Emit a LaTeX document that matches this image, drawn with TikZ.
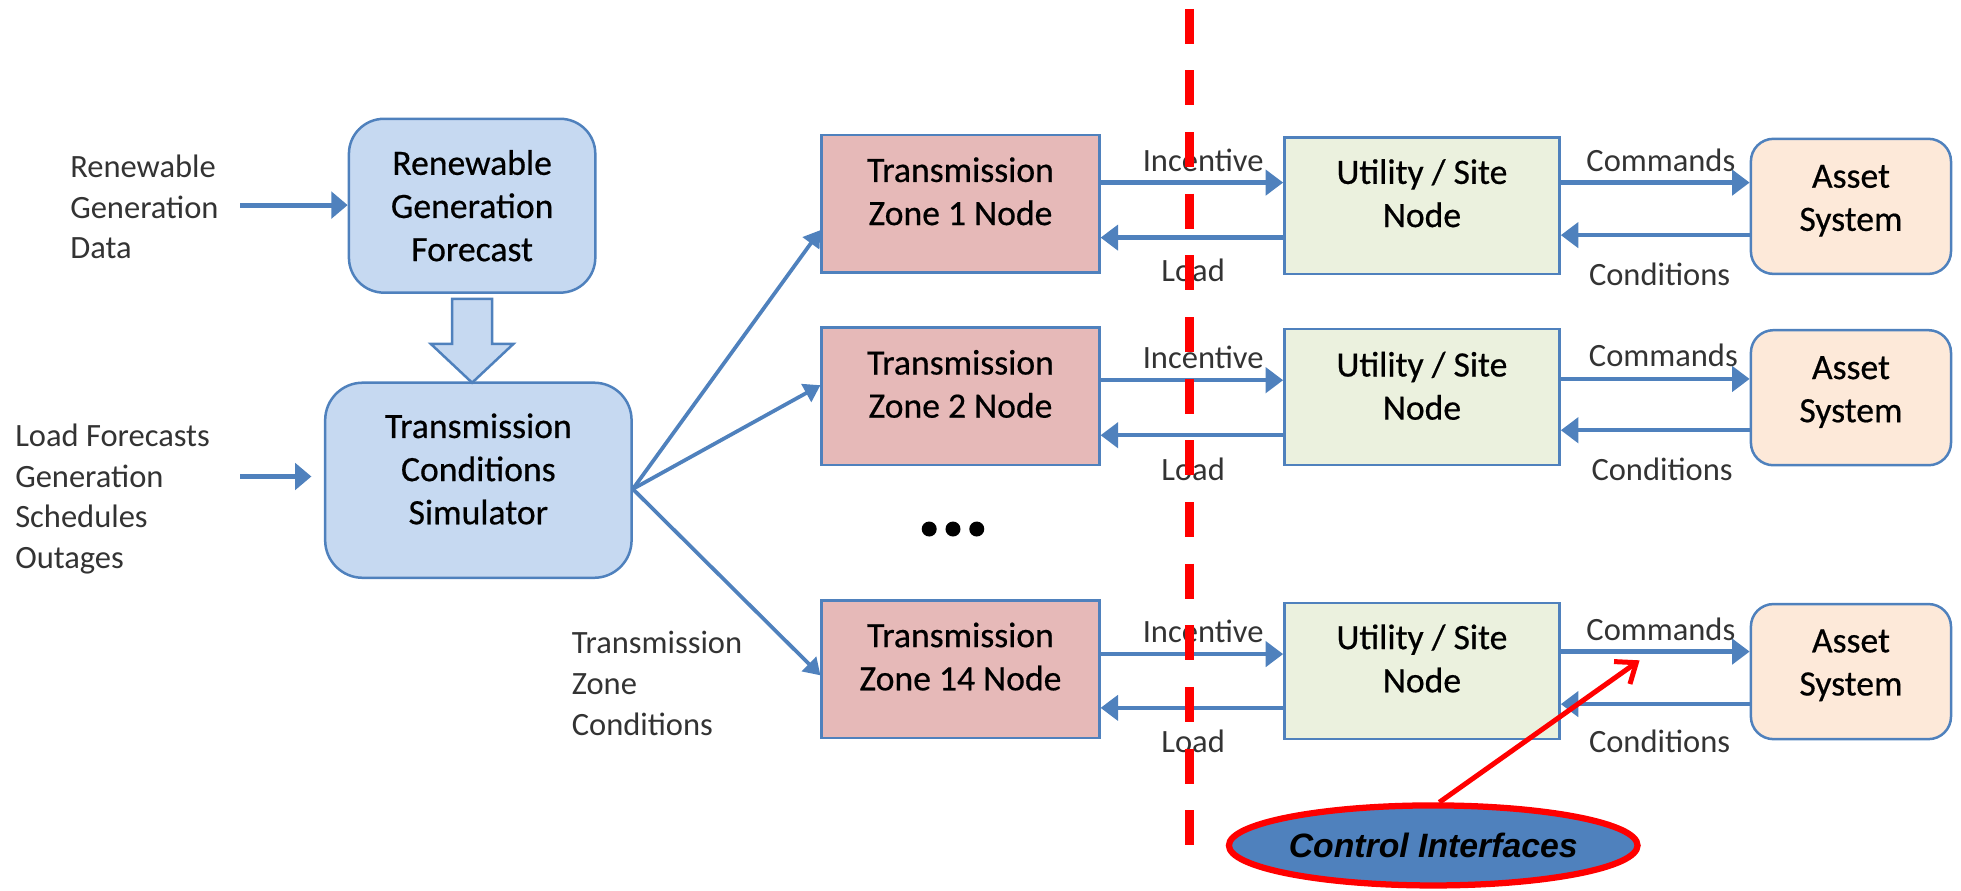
\documentclass[tikz,border=0pt]{standalone}
\usepackage{fontspec}
\setmainfont{Carlito}
\newfontfamily\boxfont{Carlito}[FakeBold=0.5]
\newfontfamily\arialfont{Liberation Sans}
\usetikzlibrary{arrows.meta,shapes.geometric,calc}
\definecolor{obl}{HTML}{4F81BD}
\definecolor{lblue}{HTML}{C6D9F1}
\definecolor{pinkf}{HTML}{E6B9B8}
\definecolor{greenf}{HTML}{EBF1DE}
\definecolor{peachf}{HTML}{FDE9D9}
\definecolor{ctrlred}{HTML}{FF0000}
\begin{document}
\begin{tikzpicture}[x=1pt,y=-1pt,
  boxbase/.style={draw=obl, line width=2pt, inner sep=0pt},
  bluebox/.style={boxbase, fill=lblue, rounded corners=28pt},
  tzbox/.style={boxbase, fill=pinkf, minimum width=222pt, minimum height=110pt},
  usbox/.style={boxbase, fill=greenf, minimum width=220pt, minimum height=109pt},
  assetbox/.style={boxbase, fill=peachf, rounded corners=18pt, minimum width=160pt, minimum height=108pt},
  boxtxt/.style={font=\boxfont\fontsize{28.5}{34.5}\selectfont, align=center, inner sep=0pt},
  sidetxt/.style={font=\fontsize{26}{32.5}\selectfont, align=left, inner sep=0pt, text=black!80},
  lbl/.style={font=\fontsize{26}{32}\selectfont, inner sep=0pt, text=black!80},
  arr/.style={draw=obl, line width=3.5pt, -{Triangle[length=14pt,width=20pt]}},
  inarr/.style={draw=obl, line width=4pt, -{Triangle[length=13pt,width=21pt]}},
  fan/.style={draw=obl, line width=3pt, -{Triangle[length=13pt,width=16pt]}},
  dotstyle/.style={fill=black, circle, inner sep=0pt, minimum size=12pt},
]
\useasboundingbox (0,0) rectangle (1568,712);

% left column
\node[bluebox, minimum width=197pt, minimum height=139pt,
  label={[boxtxt]center:{Renewable\\Generation\\Forecast}}] (rgf) at (377.5,164.5) {};
\node[bluebox, rounded corners=30pt, minimum width=245pt, minimum height=156pt,
  label={[boxtxt, yshift=9pt]center:{Transmission\\Conditions\\Simulator}}] (tcs) at (382.5,384) {};

\node[sidetxt, anchor=west] (rgd) at (56,165.6) {Renewable\\Generation\\Data};
\node[sidetxt, anchor=west] (lfc) at (12,399) {Load Forecasts\\Generation\\Schedules\\Outages};
\node[sidetxt, anchor=west] (tzc) at (457,546.5) {Transmission\\Zone\\Conditions};

\coordinate (rgdEnd) at (192,164);
\coordinate (lfcEnd) at (192,381);
\draw[inarr] (rgdEnd) -- (rgf.west |- rgdEnd);
\draw[inarr] (lfcEnd) -- ([xshift=-10pt]tcs.west |- lfcEnd);

% block arrow
\draw[draw=obl, line width=2pt, fill=lblue, line join=miter]
  ($(rgf.south)+(-16,4)$) -- ++(32,0) -- ++(0,36) -- ++(17,0)
  -- ($(rgf.south)+(0,71)$) -- ++(-33,-31) -- ++(17,0) -- cycle;

% transmission zone nodes
\node[tzbox, label={[boxtxt, yshift=10pt]center:{Transmission\\Zone 1 Node}}] (tz1) at (768,163) {};
\node[tzbox, label={[boxtxt, yshift=10pt]center:{Transmission\\Zone 2 Node}}] (tz2) at (768,317) {};
\node[tzbox, label={[boxtxt, yshift=10pt]center:{Transmission\\Zone 14 Node}}] (tz14) at (768,535) {};

% utility nodes
\node[usbox, label={[boxtxt, yshift=10pt]center:{Utility / Site\\Node}}] (us1) at (1137,164.5) {};
\node[usbox, label={[boxtxt, yshift=9pt]center:{Utility / Site\\Node}}] (us2) at (1137,317.5) {};
\node[usbox, label={[boxtxt, yshift=10pt]center:{Utility / Site\\Node}}] (us14) at (1137,536.5) {};

% asset systems
\node[assetbox, label={[boxtxt, yshift=4.5pt]center:{Asset\\System}}] (as1) at (1480,165) {};
\node[assetbox, label={[boxtxt, yshift=4.5pt]center:{Asset\\System}}] (as2) at (1480,318) {};
\node[assetbox, label={[boxtxt, yshift=5pt]center:{Asset\\System}}] (as14) at (1480,537) {};

% fan-out
\draw[fan] ([yshift=-7pt]tcs.east) -- (tz1.west |- 0,184);
\draw[fan] ([yshift=-7pt]tcs.east) -- (tz2.west |- 0,308);
\draw[fan] ([yshift=-7pt]tcs.east) -- (tz14.west |- 0,540);

% row arrows
\draw[arr] (tz1.east |- 0,146) -- (us1.west |- 0,146);
\draw[arr] (us1.west |- 0,190) -- (tz1.east |- 0,190);
\draw[arr] (us1.east |- 0,146) -- (as1.west |- 0,146);
\draw[arr] (as1.west |- 0,188) -- (us1.east |- 0,188);

\draw[arr] (tz2.east |- 0,304) -- (us2.west |- 0,304);
\draw[arr] (us2.west |- 0,348) -- (tz2.east |- 0,348);
\draw[arr] (us2.east |- 0,303) -- (as2.west |- 0,303);
\draw[arr] (as2.west |- 0,344) -- (us2.east |- 0,344);

\draw[arr] (tz14.east |- 0,523) -- (us14.west |- 0,523);
\draw[arr] (us14.west |- 0,566) -- (tz14.east |- 0,566);
\draw[arr] (us14.east |- 0,521) -- (as14.west |- 0,521);
\draw[arr] (as14.west |- 0,563) -- (us14.east |- 0,563);

% labels
\node[lbl] (inc1) at (962,128) {Incentive};
\node[lbl] (lod1) at (954,216) {Load};
\node[lbl] (cmd1) at (1328,128) {Commands};
\node[lbl] (cnd1) at (1327,219) {Conditions};
\node[lbl] (inc2) at (962,286) {Incentive};
\node[lbl] (lod2) at (954,375) {Load};
\node[lbl] (cmd2) at (1330,284) {Commands};
\node[lbl] (cnd2) at (1329,375) {Conditions};
\node[lbl] (inc14) at (962,505) {Incentive};
\node[lbl] (lod14) at (954,593) {Load};
\node[lbl] (cmd14) at (1328,503) {Commands};
\node[lbl] (cnd14) at (1327,593) {Conditions};

% ellipsis dots
\node[dotstyle] (d1) at (743,423) {};
\node[dotstyle] (d2) at (762,423) {};
\node[dotstyle] (d3) at (781,423) {};

% red cut line
\coordinate (cutTop) at (951,7);
\coordinate (cutBot) at (951,676);
\draw[ctrlred, line width=7pt, dash pattern=on 28pt off 21.3pt] (cutTop) -- (cutBot);

% control interfaces
\node[ellipse, draw=ctrlred, line width=5pt, fill=obl, minimum width=267pt, minimum height=64pt,
  inner sep=0pt, font=\arialfont\bfseries\itshape\fontsize{27}{30}\selectfont] (ci) at (1146,676) {Control Interfaces};
\coordinate (ciTip) at (1311,528);
\draw[ctrlred, line width=4pt, -{Straight Barb[length=14pt,width=22pt]}] (ci.82) -- (ciTip);
\end{tikzpicture}
\end{document}
